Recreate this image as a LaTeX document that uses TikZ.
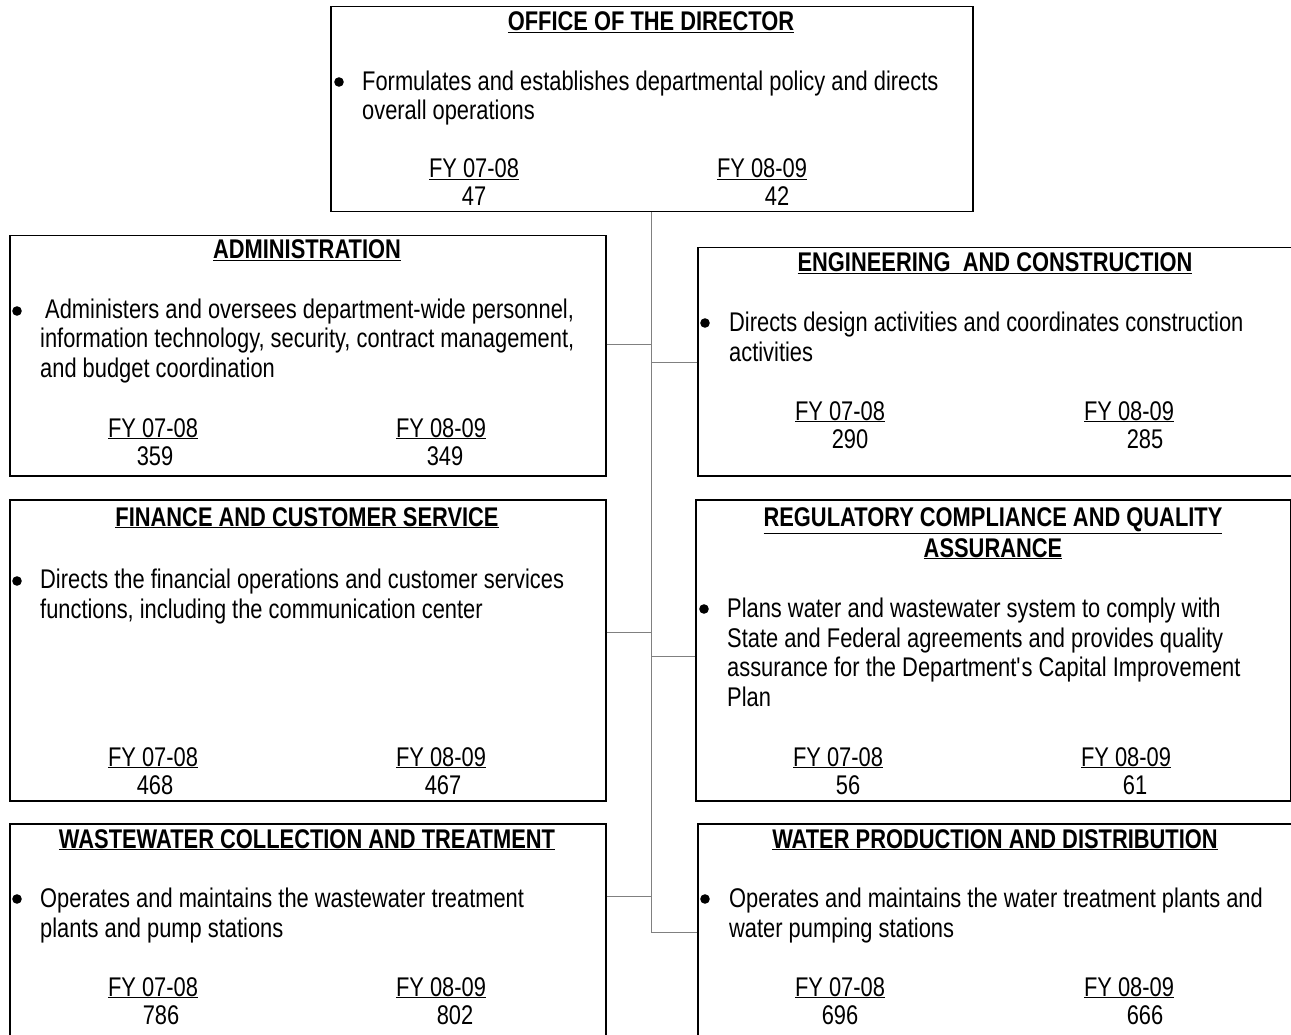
\documentclass[tikz,border=0pt]{standalone}
\usepackage{fontspec}
\setmainfont{Liberation Sans}[FakeStretch=0.81]
\def\bulletat(#1,#2){\fill (#1,#2) circle [radius=4.8pt];}

\begin{document}
\begin{tikzpicture}[x=1pt, y=-1pt, font=\fontsize{27pt}{29.5pt}\selectfont,
		unitbox/.style={draw, line width=1.5pt, anchor=north west, inner sep=0pt},
		headtext/.style={font=\fontsize{27pt}{31pt}\selectfont\bfseries, align=center, anchor=base, inner sep=0pt},
		dutytext/.style={align=left, anchor=base west, inner sep=0pt},
		fytext/.style={anchor=base, inner sep=0pt},
		orgline/.style={draw=black!50, line width=1pt}]
		%%%%% START %%%%%
		
		\useasboundingbox (0,0) rectangle (1291,1035);
		\clip (0,0) rectangle (1291,1035);
		
		\node[unitbox, minimum width=642pt, minimum height=205pt] (dir) at (330,6) {};
		\node[unitbox, minimum width=596pt, minimum height=240pt] (admin) at (9,235) {};
		\node[unitbox, minimum width=620pt, minimum height=228pt] (eng) at (697,247) {};
		\node[unitbox, minimum width=596pt, minimum height=301pt] (fin) at (9,499) {};
		\node[unitbox, minimum width=595pt, minimum height=301pt] (reg) at (695,499) {};
		\node[unitbox, minimum width=596pt, minimum height=240pt] (waste) at (9,823) {};
		\node[unitbox, minimum width=620pt, minimum height=240pt] (water) at (697,823) {};
		
		\coordinate (trunktop) at (dir.south -| 651,0);
		\coordinate (trunkend) at (651,932);
		\draw[orgline] (trunktop) -- (trunkend);
		\draw[orgline] (admin.east |- 0,344) -- (trunktop |- 0,344);
		\draw[orgline] (eng.west |- 0,362) -- (trunktop |- 0,362);
		\draw[orgline] (fin.east |- 0,632) -- (trunktop |- 0,632);
		\draw[orgline] (reg.west |- 0,656) -- (trunktop |- 0,656);
		\draw[orgline] (waste.east |- 0,896) -- (trunktop |- 0,896);
		\draw[orgline] (trunkend) -- (water.west |- trunkend);
		
		% director (multi-line nodes sit on their last line)
		\node[headtext] (dirhead) at (651,31) {\underline{OFFICE OF THE DIRECTOR}};
		\bulletat(339,82)
		\node[dutytext] (dirduty) at (362,120) {Formulates and establishes departmental policy and directs\\overall operations};
		\node[fytext] (dirfya) at (474,178) {\underline{FY 07-08}};
		\node[fytext] (dirfyb) at (762,178) {\underline{FY 08-09}};
		\node[fytext] (dirna) at (474,206) {47};
		\node[fytext] (dirnb) at (777,206) {42};
		
		% administration
		\node[headtext] (adminhead) at (307,259) {\underline{ADMINISTRATION}};
		\bulletat(17,311)
		\node[dutytext] (adminduty) at (40,377) {\hspace*{5pt}Administers and oversees department-wide personnel,\\information technology, security, contract management,\\and budget coordination};
		\node[fytext] (adminfya) at (153,437) {\underline{FY 07-08}};
		\node[fytext] (adminfyb) at (441,437) {\underline{FY 08-09}};
		\node[fytext] (adminna) at (155,465) {359};
		\node[fytext] (adminnb) at (445,465) {349};
		
		% engineering
		\node[headtext] (enghead) at (995,272) {\underline{ENGINEERING\ \ AND CONSTRUCTION}};
		\bulletat(705,323)
		\node[dutytext] (engduty) at (729,361) {Directs design activities and coordinates construction\\activities};
		\node[fytext] (engfya) at (840,420) {\underline{FY 07-08}};
		\node[fytext] (engfyb) at (1129,420) {\underline{FY 08-09}};
		\node[fytext] (engna) at (850,448) {290};
		\node[fytext] (engnb) at (1145,448) {285};
		
		% finance
		\node[headtext] (finhead) at (307,526) {\underline{FINANCE AND CUSTOMER SERVICE}};
		\bulletat(17,581)
		\node[dutytext] (finduty) at (40,618) {Directs the financial operations and customer services\\functions, including the communication center};
		\node[fytext] (finfya) at (153,766) {\underline{FY 07-08}};
		\node[fytext] (finfyb) at (441,766) {\underline{FY 08-09}};
		\node[fytext] (finna) at (155,794) {468};
		\node[fytext] (finnb) at (443,794) {467};
		
		% regulatory
		\node[headtext] (reghead) at (993,557) {\underline{REGULATORY COMPLIANCE AND QUALITY}\\\underline{ASSURANCE}};
		\bulletat(704,609)
		\node[dutytext] (regduty) at (727,706) {Plans water and wastewater system to comply with\\State and Federal agreements and provides quality\\assurance for the Department\textquotesingle s Capital Improvement\\Plan};
		\node[fytext] (regfya) at (838,766) {\underline{FY 07-08}};
		\node[fytext] (regfyb) at (1126,766) {\underline{FY 08-09}};
		\node[fytext] (regna) at (848,794) {56};
		\node[fytext] (regnb) at (1135,794) {61};
		
		% wastewater
		\node[headtext] (wastehead) at (307,848) {\underline{WASTEWATER COLLECTION AND TREATMENT}};
		\bulletat(17,899)
		\node[dutytext] (wasteduty) at (40,937) {Operates and maintains the wastewater treatment\\plants and pump stations};
		\node[fytext] (wastefya) at (153,996) {\underline{FY 07-08}};
		\node[fytext] (wastefyb) at (441,996) {\underline{FY 08-09}};
		\node[fytext] (wastena) at (161,1024) {786};
		\node[fytext] (wastenb) at (455,1024) {802};
		
		% water
		\node[headtext] (waterhead) at (995,848) {\underline{WATER PRODUCTION AND DISTRIBUTION}};
		\bulletat(705,899)
		\node[dutytext] (waterduty) at (729,937) {Operates and maintains the water treatment plants and\\water pumping stations};
		\node[fytext] (waterfya) at (840,996) {\underline{FY 07-08}};
		\node[fytext] (waterfyb) at (1129,996) {\underline{FY 08-09}};
		\node[fytext] (waterna) at (840,1024) {696};
		\node[fytext] (waternb) at (1145,1024) {666};
		
		%%%%% END %%%%%
\end{tikzpicture}
\end{document}
